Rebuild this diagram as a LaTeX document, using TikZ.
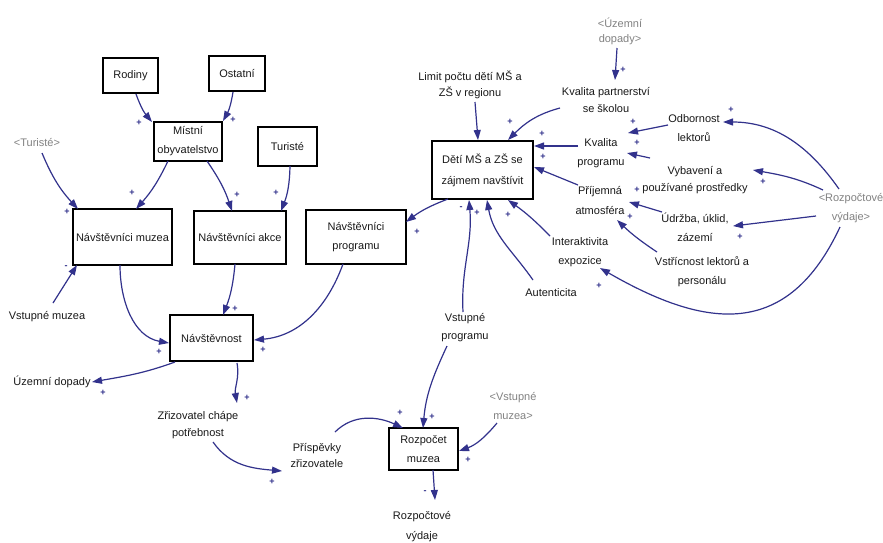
\documentclass[tikz,border=0pt]{standalone}
\usepackage{fontspec}
\setmainfont{Liberation Sans}
\usetikzlibrary{arrows.meta,calc}
\definecolor{lnk}{RGB}{50,50,140}
\definecolor{txt}{RGB}{25,25,25}
\definecolor{shd}{RGB}{130,130,130}
\begin{document}
\begin{tikzpicture}[x=1pt,y=1pt,
  lbl/.style={font=\fontsize{11}{19}\selectfont, text=txt, align=center, inner sep=1pt},
  box/.style={lbl, draw=black, line width=1.4pt, fill=white, inner sep=2pt},
  shadowvar/.style={lbl, text=shd},
  arr/.style={draw=lnk, line width=1.2pt, -{Triangle[length=10pt,width=7pt]}},
  sgn/.style={font=\bfseries\fontsize{9}{9}\selectfont, text=lnk, inner sep=0pt}]
\fill[white] (0,0) rectangle (883,-542);
\useasboundingbox (0,0) rectangle (883,-542);

% boxes
\node[box, minimum width=55pt, minimum height=35pt] (rod) at (130.5,-75.5) {Rodiny};
\node[box, minimum width=56pt, minimum height=35pt] (ost) at (237,-73.5) {Ostatní};
\node[box, minimum width=68pt, minimum height=39pt] (mist) at (188,-141.5) {Místní\\obyvatelstvo};
\node[box, minimum width=59pt, minimum height=39pt] (tur) at (287.5,-146.5) {Turisté};
\node[box, minimum width=99pt, minimum height=56pt] (nm) at (122.5,-237) {Návštěvníci muzea};
\node[box, minimum width=92pt, minimum height=53pt] (na) at (240,-237.5) {Návštěvníci akce};
\node[box, minimum width=100pt, minimum height=54pt] (np) at (356,-237) {Návštěvníci\\programu};
\node[box, minimum width=101pt, minimum height=58pt, font=\fontsize{11}{21}\selectfont] (deti) at (482.5,-170) {Dětí MŠ a ZŠ se\\zájmem navštívit};
\node[box, minimum width=83pt, minimum height=46pt] (nav) at (211.5,-338) {Návštěvnost};
\node[box, minimum width=69pt, minimum height=42pt] (roz) at (423.5,-449) {Rozpočet\\muzea};

% plain variables
\node[shadowvar] (turS) at (37,-142) {<Turisté>};
\node[lbl] (vm) at (47,-317) {Vstupné muzea};
\node[lbl] (ud) at (52,-382) {Územní dopady};
\node[lbl, font=\fontsize{11}{17}\selectfont] (zr) at (198,-425) {Zřizovatel chápe\\potřebnost};
\node[lbl, font=\fontsize{11}{16}\selectfont] (pr) at (317,-455) {Příspěvky\\zřizovatele};
\node[lbl, font=\fontsize{11}{18}\selectfont] (vp) at (465,-328) {Vstupné\\programu};
\node[shadowvar] (vmS) at (513,-406) {<Vstupné\\muzea>};
\node[lbl, font=\fontsize{11}{20}\selectfont] (rv) at (422,-527) {Rozpočtové\\výdaje};
\node[lbl] (aut) at (551,-293) {Autenticita};
\node[lbl] (int) at (580,-252) {Interaktivita\\expozice};
\node[lbl, font=\fontsize{11}{16}\selectfont] (lim) at (470,-85) {Limit počtu dětí MŠ a\\ZŠ v regionu};
\node[lbl, font=\fontsize{11}{17}\selectfont] (kp) at (606,-100) {Kvalita partnerství\\se školou};
\node[shadowvar, font=\fontsize{11}{15}\selectfont] (udS) at (620,-31) {<Územní\\dopady>};
\node[lbl] (kpr) at (601,-153) {Kvalita\\programu};
\node[lbl, font=\fontsize{11}{20}\selectfont] (pa) at (600,-200) {Příjemná\\atmosféra};
\node[lbl] (odb) at (694,-128) {Odbornost\\lektorů};
\node[lbl, font=\fontsize{11}{17}\selectfont] (vyb) at (695,-180) {Vybavení a\\používané prostředky};
\node[lbl] (udr) at (695,-227) {Údržba, úklid,\\zázemí};
\node[lbl] (vst) at (702,-272) {Vstřícnost lektorů a\\personálu};
\node[shadowvar] (rvS) at (851,-208) {<Rozpočtové\\výdaje>};

% connectors
\draw[arr] ($(rod)+(5.5,-18.5)$) to[bend right=10] ($(mist)+(-36,19.5)$);
\draw[arr] ($(ost)+(-4,-18.5)$) to[bend left=10] ($(mist)+(35,20.5)$);
\draw[arr] ($(mist)+(-20,-19.5)$) to[bend left=8] ($(nm)+(13.5,28)$);
\draw[arr] ($(mist)+(19,-19.5)$) to[bend left=8] ($(na)+(-8,26.5)$);
\draw[arr] ($(tur)+(2.5,-19.5)$) to[bend left=10] ($(na)+(41,26.5)$);
\draw[arr] ($(turS)+(5,-11)$) to[bend right=10] ($(nm)+(-44.5,28)$);
\draw[arr] ($(vm)+(6,14)$) -- ($(nm)+(-45.5,-28)$);
\draw[arr] ($(nm)+(-2.5,-28)$) to[out=-90,in=170] ($(nav)+(-42.5,-5)$);
\draw[arr] ($(na)+(-5,-26.5)$) to[bend left=8] ($(nav)+(11.5,23)$);
\draw[arr] ($(np)+(-13,-27)$) to[out=-110,in=5] ($(nav)+(42.5,-2)$);
\draw[arr] ($(deti)+(-34.5,-29)$) to[bend right=8] ($(np)+(50,15)$);
\draw[arr] ($(nav)+(-36.5,-24)$) to[out=-160,in=10] ($(ud)+(40,0)$);
\draw[arr] ($(nav)+(25.5,-25)$) to[out=-80,in=100] ($(zr)+(39,22)$);
\draw[arr] ($(zr)+(15,-17)$) to[out=-55,in=175] ($(pr)+(-35,-16)$);
\draw[arr] ($(pr)+(18,23)$) to[out=45,in=155] ($(roz)+(-20.5,21)$);
\draw[arr] ($(vp)+(-18,-18)$) to[out=-115,in=85] ($(roz)+(-0.5,21)$);
\draw[arr] ($(vmS)+(-16,-17)$) to[out=-130,in=20] ($(roz)+(35.5,-2)$);
\draw[arr] ($(roz)+(9.5,-21)$) -- ($(rv)+(13,27)$);
\draw[arr] ($(vp)+(-2,16)$) to[out=93,in=-85] ($(deti)+(-13.5,-30)$);
\draw[arr] ($(aut)+(-18,13)$) to[out=125,in=-80] ($(deti)+(4.5,-30)$);
\draw[arr] ($(int)+(-30,16)$) to[bend right=5] ($(deti)+(25.5,-30)$);
\draw[arr] ($(lim)+(5,-17)$) -- ($(deti)+(-4.5,30)$);
\draw[arr] ($(kp)+(-46,-8)$) to[out=-165,in=45] ($(deti)+(25.5,30)$);
\draw[arr] ($(kpr)+(-23,7)$) -- ($(deti)+(51.5,24)$);
\draw[arr] ($(pa)+(-22,15)$) -- ($(deti)+(51.5,3)$);
\draw[arr] ($(udS)+(-3,-17)$) -- ($(kp)+(9,20)$);
\draw[arr] ($(odb)+(-26,3)$) -- ($(kpr)+(27,20)$);
\draw[arr] ($(vyb)+(-45,22)$) -- ($(kpr)+(26,0)$);
\draw[arr] ($(udr)+(-33,15)$) -- ($(pa)+(29,-2)$);
\draw[arr] ($(vst)+(-45,20)$) to[bend left=5] ($(pa)+(17,-20)$);
\draw[arr] ($(rvS)+(-12,19)$) to[out=125,in=0] ($(odb)+(29,6)$);
\draw[arr] ($(rvS)+(-28,18)$) to[out=155,in=-10] ($(vyb)+(58,10)$);
\draw[arr] ($(rvS)+(-35,-8)$) -- ($(udr)+(38,1)$);
\draw[arr] ($(rvS)+(-11,-19)$) to[out=-115,in=-30,looseness=1.3] ($(int)+(20,-16)$);

% polarity signs
\node[sgn] (s1) at (139,-123) {+};
\node[sgn] (s2) at (233,-120) {+};
\node[sgn] (s3) at (132,-193) {+};
\node[sgn] (s4) at (237,-195) {+};
\node[sgn] (s5) at (276,-193) {+};
\node[sgn] (s6) at (67,-212) {+};
\node[sgn] (s7) at (66,-267) {-};
\node[sgn] (s8) at (159,-352) {+};
\node[sgn] (s9) at (235,-309) {+};
\node[sgn] (s10) at (263,-350) {+};
\node[sgn] (s11) at (417,-232) {+};
\node[sgn] (s12) at (103,-393) {+};
\node[sgn] (s13) at (247,-398) {+};
\node[sgn] (s14) at (272,-482) {+};
\node[sgn] (s15) at (400,-413) {+};
\node[sgn] (s16) at (432,-417) {+};
\node[sgn] (s17) at (468,-460) {+};
\node[sgn] (s18) at (425,-492) {-};
\node[sgn] (s19) at (461,-208) {-};
\node[sgn] (s20) at (477,-213) {+};
\node[sgn] (s21) at (508,-215) {+};
\node[sgn] (s23) at (510,-122) {+};
\node[sgn] (s24) at (542,-134) {+};
\node[sgn] (s25) at (543,-157) {+};
\node[sgn] (s26) at (623,-70) {+};
\node[sgn] (s27) at (633,-122) {+};
\node[sgn] (s28) at (637,-143) {+};
\node[sgn] (s29) at (637,-190) {+};
\node[sgn] (s30) at (630,-217) {+};
\node[sgn] (s31) at (731,-110) {+};
\node[sgn] (s32) at (763,-182) {+};
\node[sgn] (s33) at (740,-237) {+};
\node[sgn] (s34) at (599,-286) {+};
\end{tikzpicture}
\end{document}
